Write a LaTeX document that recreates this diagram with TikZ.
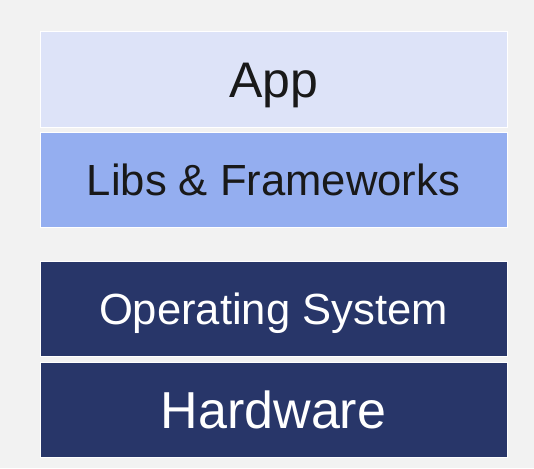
\documentclass[tikz,border=0pt]{standalone}
\usepackage{fontspec}
\setmainfont{Liberation Sans}
\usetikzlibrary{positioning}

\definecolor{bggray}{HTML}{F2F2F2}
\definecolor{applight}{HTML}{DDE3F8}
\definecolor{libsblue}{HTML}{94AEF0}
\definecolor{sysnavy}{HTML}{283669}

\begin{document}
\begin{tikzpicture}[x=1pt,y=-1pt,
		layer/.style={rectangle,draw=white,line width=1pt,outer sep=0pt,inner sep=0pt,
			minimum width=467pt,minimum height=95pt,text depth=0pt},
		size/.style={font=\fontsize{#1}{#1}\selectfont,text height=0.716*#1 pt},
		upper/.style={layer,text=black!90},
		lower/.style={layer,fill=sysnavy,text=white}]
	% background and margins
	\fill[bggray] (0,0) rectangle (534,468);
	\useasboundingbox (0,0) rectangle (534,468);

	% the user side
	\node[upper,fill=applight,size=50] (app) at (273.5,79.5) {App};
	\node[upper,fill=libsblue,size=43.6,below=5pt of app] (libs) {Libs \& Frameworks};

	% the system side
	\node[lower,size=43.6,below=34pt of libs] (os) {Operating System};
	\node[lower,size=52,below=6pt of os] (hw) {Hardware};
\end{tikzpicture}
\end{document}
